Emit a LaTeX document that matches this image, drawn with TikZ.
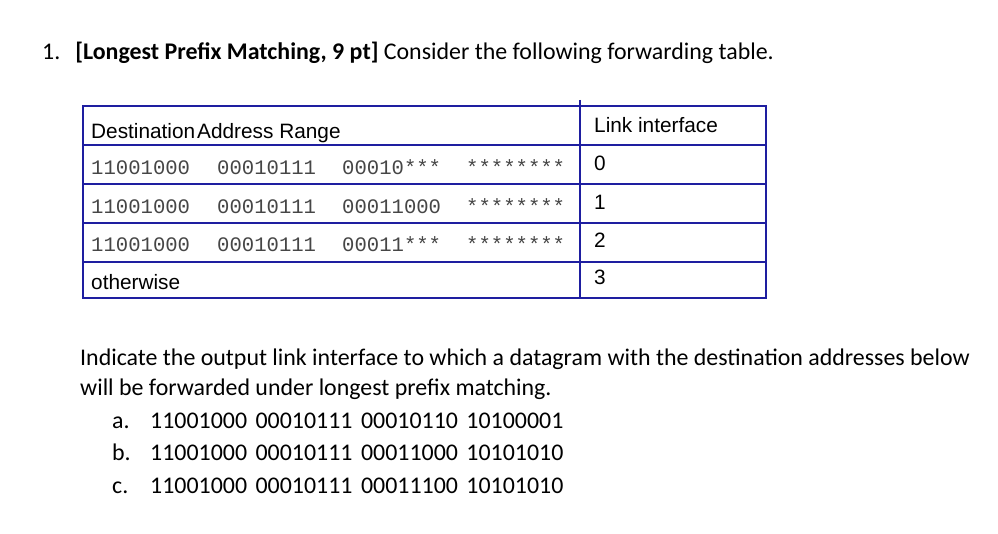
\documentclass[tikz,border=0pt]{standalone}
\usepackage{fontspec}
\setmainfont{Carlito}
\newfontfamily\arial{Liberation Sans}
\newfontfamily\cour{Liberation Mono}
\definecolor{tblue}{RGB}{30,30,160}
\definecolor{mgray}{RGB}{70,70,70}
\begin{document}
\begin{tikzpicture}[x=1pt,y=-1pt,
  txt/.style={anchor=base west,inner sep=0pt,font=\fontsize{23.9}{28}\selectfont},
  tab/.style={anchor=base west,inner sep=0pt,font=\arial\fontsize{20.8}{24}\selectfont},
  mono/.style={anchor=base west,inner sep=0pt,text=mgray,font=\cour\fontsize{20.6}{24}\selectfont},
  rule/.style={draw=tblue,line width=1.6pt}]
\useasboundingbox (0,0) rectangle (998,534);
\node[txt] (t1) at (42,60) {1.\hspace{15pt}\textbf{[Longest Prefix Matching, 9 pt]} Consider the following forwarding table.};
% table
\draw[rule] (83,106) rectangle (766,298);
\foreach \y in {145,184,223,262} \draw[rule] (83,\y) -- (766,\y);
\draw[rule] (580,100) -- (580,298);
\node[tab] (h1) at (91,139) {Destination\hspace{2pt}Address Range};
\node[tab] (h2) at (594,133) {Link interface};
\foreach \r/\y/\c/\d in {0/175/00010***/0,1/214/00011000/1,2/252/00011***/2}{
  \node[mono] (a\r) at (91,\y) {11001000};
  \node[mono] (b\r) at (217,\y) {00010111};
  \node[mono] (c\r) at (342,\y) {\c};
  \node[mono] (e\r) at (466,\y) {********};
  \node[tab] (l\r) at (594,\y-4) {\d};
}
\node[tab] (o) at (91,290) {otherwise};
\node[tab] (l3) at (594,285) {3};
% question
\node[txt] (q1) at (80,366) {Indicate the output link interface to which a datagram with the destination addresses below};
\node[txt] (q2) at (80,395) {will be forwarded under longest prefix matching.};
\foreach \n/\y/\s in {a/428/11001000 00010111 00010110 10100001,b/460/11001000 00010111 00011000 10101010,c/493/11001000 00010111 00011100 10101010}{
  \node[txt] (i\n) at (112,\y) {\n.};
  \node[txt] (s\n) at (150,\y) {\spaceskip=8.5pt\relax\s};
}
\end{tikzpicture}
\end{document}
